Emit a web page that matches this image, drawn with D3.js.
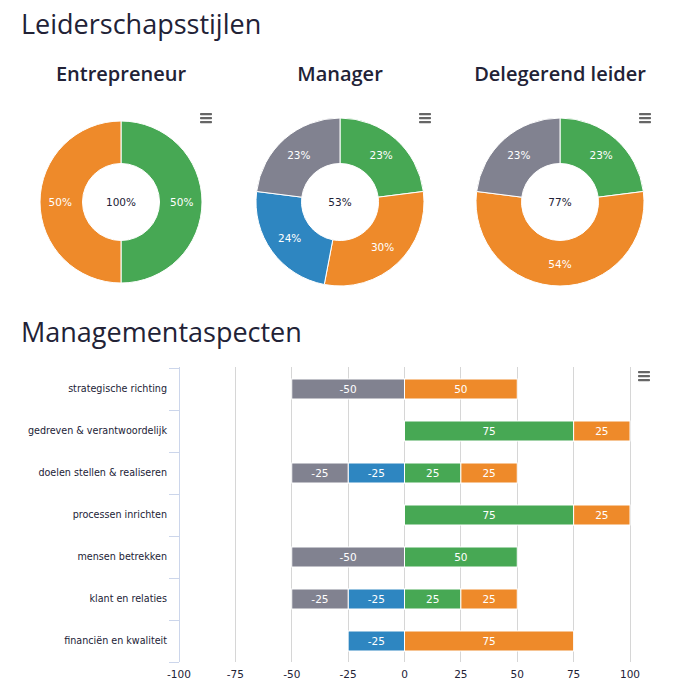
<!DOCTYPE html>
<html><head><meta charset="utf-8">
<script src="https://cdn.jsdelivr.net/npm/d3@7"></script>
<style>
body{margin:0;background:#fff;}
svg{display:block;}
</style></head><body>
<svg id="c" width="680" height="700"></svg>
<script>
// ---- data ----
const pageTitle = "Leiderschapsstijlen";
const barTitle = "Managementaspecten";
const donutTitles = ["Entrepreneur", "Manager", "Delegerend leider"];
const donutCenters = ["100%", "53%", "77%"];
const donutEntrepreneur = [{k:"green",v:50},{k:"orange",v:50}];
const donutManager = [{k:"green",v:23},{k:"orange",v:30},{k:"blue",v:24},{k:"gray",v:23}];
const donutDelegerend = [{k:"green",v:23},{k:"orange",v:54},{k:"gray",v:23}];

const categories = ["strategische richting","gedreven & verantwoordelijk","doelen stellen & realiseren","processen inrichten","mensen betrekken","klant en relaties","financiën en kwaliteit"];
const grayValues   = [-50, 0, -25, 0, -50, -25, 0];
const blueValues   = [0, 0, -25, 0, 0, -25, -25];
const greenValues  = [0, 75, 25, 75, 50, 25, 0];
const orangeValues = [50, 25, 25, 25, 0, 25, 75];
const xTicks = [-100, -75, -50, -25, 0, 25, 50, 75, 100];

const colors = {green:"#47a854", orange:"#ee8a2a", blue:"#2e86c1", gray:"#818290"};
const textDark = "#222236";

const svg = d3.select("#c");
const FONT = "'DejaVu Sans', Verdana, sans-serif";
const HFONT = "'Open Sans', 'Noto Sans', sans-serif";

svg.append("text").attr("x",21).attr("y",34).text(pageTitle)
  .attr("font-family",HFONT).attr("font-size",27).attr("font-weight",500).attr("fill",textDark);

function hamburger(cx, cy){
  const g = svg.append("g");
  [-4,0,4].forEach(dy=>{
    g.append("rect").attr("x",cx-6).attr("y",cy+dy-1).attr("width",12).attr("height",2.2)
      .attr("rx",0.8).attr("fill","#666");
  });
}

// ---- donuts ----
const donutData = [donutEntrepreneur, donutManager, donutDelegerend];
const donutCx = [121, 340, 560];
const donutR = [81, 84, 84];
donutData.forEach((data,i)=>{
  const cx = donutCx[i], cy = 202;
  svg.append("text").attr("x",cx).attr("y",81).attr("text-anchor","middle")
    .text(donutTitles[i]).attr("font-family",HFONT).attr("font-weight",600)
    .attr("font-size",20).attr("fill",textDark);
  const pie = d3.pie().value(d=>d.v).sort(null);
  const R = donutR[i], r = 38.5;
  const arc = d3.arc().innerRadius(r).outerRadius(R);
  const lab = d3.arc().innerRadius((R+r)/2+1).outerRadius((R+r)/2+1);
  const g = svg.append("g").attr("transform",`translate(${cx},${cy})`);
  const arcs = pie(data);
  g.selectAll("path").data(arcs).join("path").attr("d",arc)
    .attr("fill",d=>colors[d.data.k]).attr("stroke","#fff").attr("stroke-width",1);
  g.selectAll("text.l").data(arcs).join("text").attr("class","l")
    .attr("transform",d=>`translate(${lab.centroid(d)})`)
    .attr("text-anchor","middle").attr("dy","0.35em")
    .attr("font-family",FONT).attr("font-size",10.5).attr("fill","#fff")
    .text(d=>d.data.v+"%");
  g.append("text").attr("text-anchor","middle").attr("dy","0.35em")
    .attr("font-family",FONT).attr("font-size",10.5).attr("fill",textDark)
    .text(donutCenters[i]);
  hamburger(cx + 85, 118);
});

// ---- bar chart ----
svg.append("text").attr("x",21).attr("y",342).text(barTitle)
  .attr("font-family",HFONT).attr("font-size",27).attr("font-weight",500).attr("fill",textDark);
hamburger(644, 376);

const x = d3.scaleLinear().domain([-100,100]).range([179,630]);
const y = d3.scaleBand().domain(categories).range([368,662]).paddingInner(0).paddingOuter(0);

// grid
svg.append("g").selectAll("line").data(xTicks.filter(t=>t!==-100)).join("line")
  .attr("x1",d=>x(d)).attr("x2",d=>x(d)).attr("y1",367).attr("y2",662)
  .attr("stroke","#d6d6d6").attr("stroke-width",1).attr("shape-rendering","crispEdges");

// bars
const series = [
  {k:"gray", vals:grayValues},
  {k:"blue", vals:blueValues},
  {k:"green", vals:greenValues},
  {k:"orange", vals:orangeValues}
];
const segs = [];
categories.forEach((c,ci)=>{
  let neg = 0;
  ["blue","gray"].forEach(k=>{
    const s = series.find(s=>s.k===k); const v = s.vals[ci];
    if(v<0){ segs.push({c, k, v, x0:neg+v, x1:neg}); neg += v; }
  });
  let pos = 0;
  ["green","orange"].forEach(k=>{
    const s = series.find(s=>s.k===k); const v = s.vals[ci];
    if(v>0){ segs.push({c, k, v, x0:pos, x1:pos+v}); pos += v; }
  });
});
const bh = 20;
const bg = svg.append("g");
bg.selectAll("rect").data(segs).join("rect")
  .attr("x",d=>x(d.x0)).attr("width",d=>x(d.x1)-x(d.x0))
  .attr("y",d=>y(d.c)+y.bandwidth()/2-bh/2).attr("height",bh)
  .attr("fill",d=>colors[d.k]).attr("stroke","#fff").attr("stroke-width",1);
bg.selectAll("text").data(segs).join("text")
  .attr("x",d=>(x(d.x0)+x(d.x1))/2).attr("y",d=>y(d.c)+y.bandwidth()/2)
  .attr("dy","0.35em").attr("text-anchor","middle")
  .attr("font-family",FONT).attr("font-size",10.5).attr("fill","#fff")
  .text(d=>String(d.v));

// y axis
const yAxis = svg.append("g").attr("transform","translate(179,0)");
yAxis.append("line").attr("x1",0).attr("x2",0).attr("y1",367).attr("y2",662)
  .attr("stroke","#ccd6eb").attr("shape-rendering","crispEdges");
const bounds = categories.map(c=>y(c)).concat([662]);
yAxis.selectAll("line.t").data(bounds).join("line").attr("class","t")
  .attr("x1",-10).attr("x2",0).attr("y1",d=>d).attr("y2",d=>d)
  .attr("stroke","#ccd6eb").attr("shape-rendering","crispEdges");
yAxis.selectAll("text").data(categories).join("text")
  .attr("x",-12).attr("y",d=>y(d)+y.bandwidth()/2).attr("dy","0.35em")
  .attr("text-anchor","end").attr("font-family",FONT).attr("font-size",9.6)
  .attr("fill",textDark).text(d=>d);

// x axis labels
svg.append("g").selectAll("text").data(xTicks).join("text")
  .attr("x",d=>x(d)).attr("y",678).attr("text-anchor","middle")
  .attr("font-family",FONT).attr("font-size",10.5).attr("fill",textDark)
  .text(d=>String(d));
</script>
</body></html>
